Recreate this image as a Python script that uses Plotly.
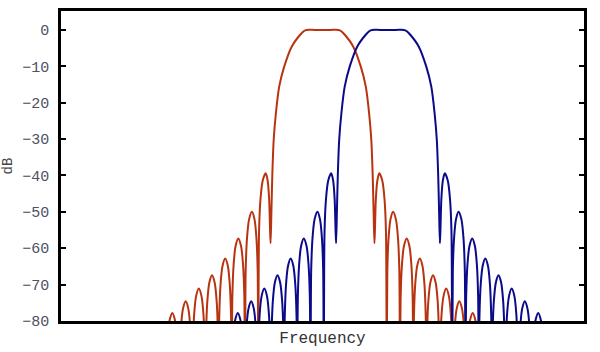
import plotly.graph_objects as go

# Filter response shape: offset from each filter's centre (freq units) and level (dB)
profile_offset = [
    -156.9, -156.23, -154.89, -152.88, -150.2, -147.52, -145.51, -144.17,
    -143.5, -142.83, -141.49, -139.48, -136.8, -134.2, -132.25, -130.95,
    -130.3, -129.64, -128.32, -126.34, -123.7, -121.06, -119.08, -117.76,
    -117.1, -116.44, -115.12, -113.14, -110.5, -107.86, -105.88, -104.56,
    -103.9, -103.24, -101.92, -99.94, -97.3, -94.7, -92.75, -91.45,
    -90.8, -90.14, -88.82, -86.84, -84.2, -81.52, -79.51, -78.17,
    -77.5, -76.81, -75.43, -73.36, -70.6, -68.04, -66.12, -64.84,
    -64.2, -63.46, -61.98, -59.76, -56.8, -54.84, -53.37, -52.39,
    -51.9, -51.1, -50.2, -48.8, -46.6, -43.3, -38.3, -30.8, -22.5, -18.5, -15.8, -8.0,
    0.0,
    8.0, 15.8, 18.5, 22.5, 30.8, 38.3, 43.3, 46.6, 48.8, 50.2, 51.1, 51.9,
    52.39, 53.37, 54.84, 56.8, 59.76, 61.98, 63.46, 64.2,
    64.84, 66.12, 68.04, 70.6, 73.36, 75.43, 76.81, 77.5,
    78.17, 79.51, 81.52, 84.2, 86.84, 88.82, 90.14, 90.8,
    91.45, 92.75, 94.7, 97.3, 99.94, 101.92, 103.24, 103.9,
    104.56, 105.88, 107.86, 110.5, 113.14, 115.12, 116.44, 117.1,
    117.76, 119.08, 121.06, 123.7, 126.34, 128.32, 129.64, 130.3,
    130.95, 132.25, 134.2, 136.8, 139.48, 141.49, 142.83, 143.5,
    144.17, 145.51, 147.52, 150.2, 152.88, 154.89, 156.23, 156.9,
]
profile_db = [
    -100, -93.8, -84.8, -79.8, -77.8, -79.8, -84.8, -93.8,
    -100, -90.6, -81.6, -76.6, -74.6, -76.6, -81.6, -90.6,
    -100, -87.1, -78.1, -73.1, -71.1, -73.1, -78.1, -87.1,
    -100, -83.4, -74.4, -69.4, -67.4, -69.4, -74.4, -83.4,
    -100, -78.8, -69.8, -64.8, -62.8, -64.8, -69.8, -78.8,
    -100, -73.3, -64.3, -59.3, -57.3, -59.3, -64.3, -73.3,
    -100, -66.0, -57.0, -52.0, -50.0, -52.0, -57.0, -66.0,
    -100, -55.4, -46.4, -41.4, -39.4, -41.4, -46.4, -55.4,
    -58.6, -50.0, -40.0, -30.2, -22.9, -15.6, -10.1, -4.6, -1.4, -0.3, 0.0, 0.0,
    0.0,
    0.0, 0.0, -0.3, -1.4, -4.6, -10.1, -15.6, -22.9, -30.2, -40.0, -50.0, -58.6,
    -55.4, -46.4, -41.4, -39.4, -41.4, -46.4, -55.4, -100,
    -66.0, -57.0, -52.0, -50.0, -52.0, -57.0, -66.0, -100,
    -73.3, -64.3, -59.3, -57.3, -59.3, -64.3, -73.3, -100,
    -78.8, -69.8, -64.8, -62.8, -64.8, -69.8, -78.8, -100,
    -83.4, -74.4, -69.4, -67.4, -69.4, -74.4, -83.4, -100,
    -87.1, -78.1, -73.1, -71.1, -73.1, -78.1, -87.1, -100,
    -90.6, -81.6, -76.6, -74.6, -76.6, -81.6, -90.6, -100,
    -93.8, -84.8, -79.8, -77.8, -79.8, -84.8, -93.8, -100,
]

filter_names = ["Filter 1", "Filter 2"]
filter_centres = [322.5, 388.0]
filter_colors = ["rgb(184,52,16)", "rgb(10,10,138)"]

y_ticks = [0, -10, -20, -30, -40, -50, -60, -70, -80]

fig = go.Figure()
for name, centre, color in zip(filter_names, filter_centres, filter_colors):
    fig.add_trace(go.Scatter(
        x=[centre + o for o in profile_offset],
        y=profile_db,
        mode="lines",
        name=name,
        line=dict(color=color, width=2, shape="spline", smoothing=0.8),
        showlegend=False,
    ))

font_family = "Liberation Mono, Courier New, monospace"
fig.update_layout(
    width=600, height=352,
    margin=dict(l=61, r=16, t=11, b=31),
    paper_bgcolor="white",
    plot_bgcolor="white",
    font=dict(family=font_family, size=14, color="#4a5264"),
    xaxis=dict(
        range=[61, 584],
        automargin=False,
        showticklabels=False, ticks="",
        showgrid=False, zeroline=False,
        showline=True, linecolor="black", linewidth=2.5, mirror=True,
        title=dict(text="Frequency", font=dict(family=font_family, size=16, color="#333333"), standoff=10),
    ),
    yaxis=dict(
        range=[-80, 5.2],
        automargin=False,
        tickvals=y_ticks,
        ticks="inside", ticklen=5, tickwidth=2, tickcolor="black",
        ticklabelstandoff=6,
        showgrid=False, zeroline=False,
        showline=True, linecolor="black", linewidth=2.5, mirror="ticks",
        tickfont=dict(family=font_family, size=15, color="#4a5264"),
        title=dict(text="dB", font=dict(family=font_family, size=14, color="#444444"), standoff=14),
    ),
)

fig.write_html("out.html")
